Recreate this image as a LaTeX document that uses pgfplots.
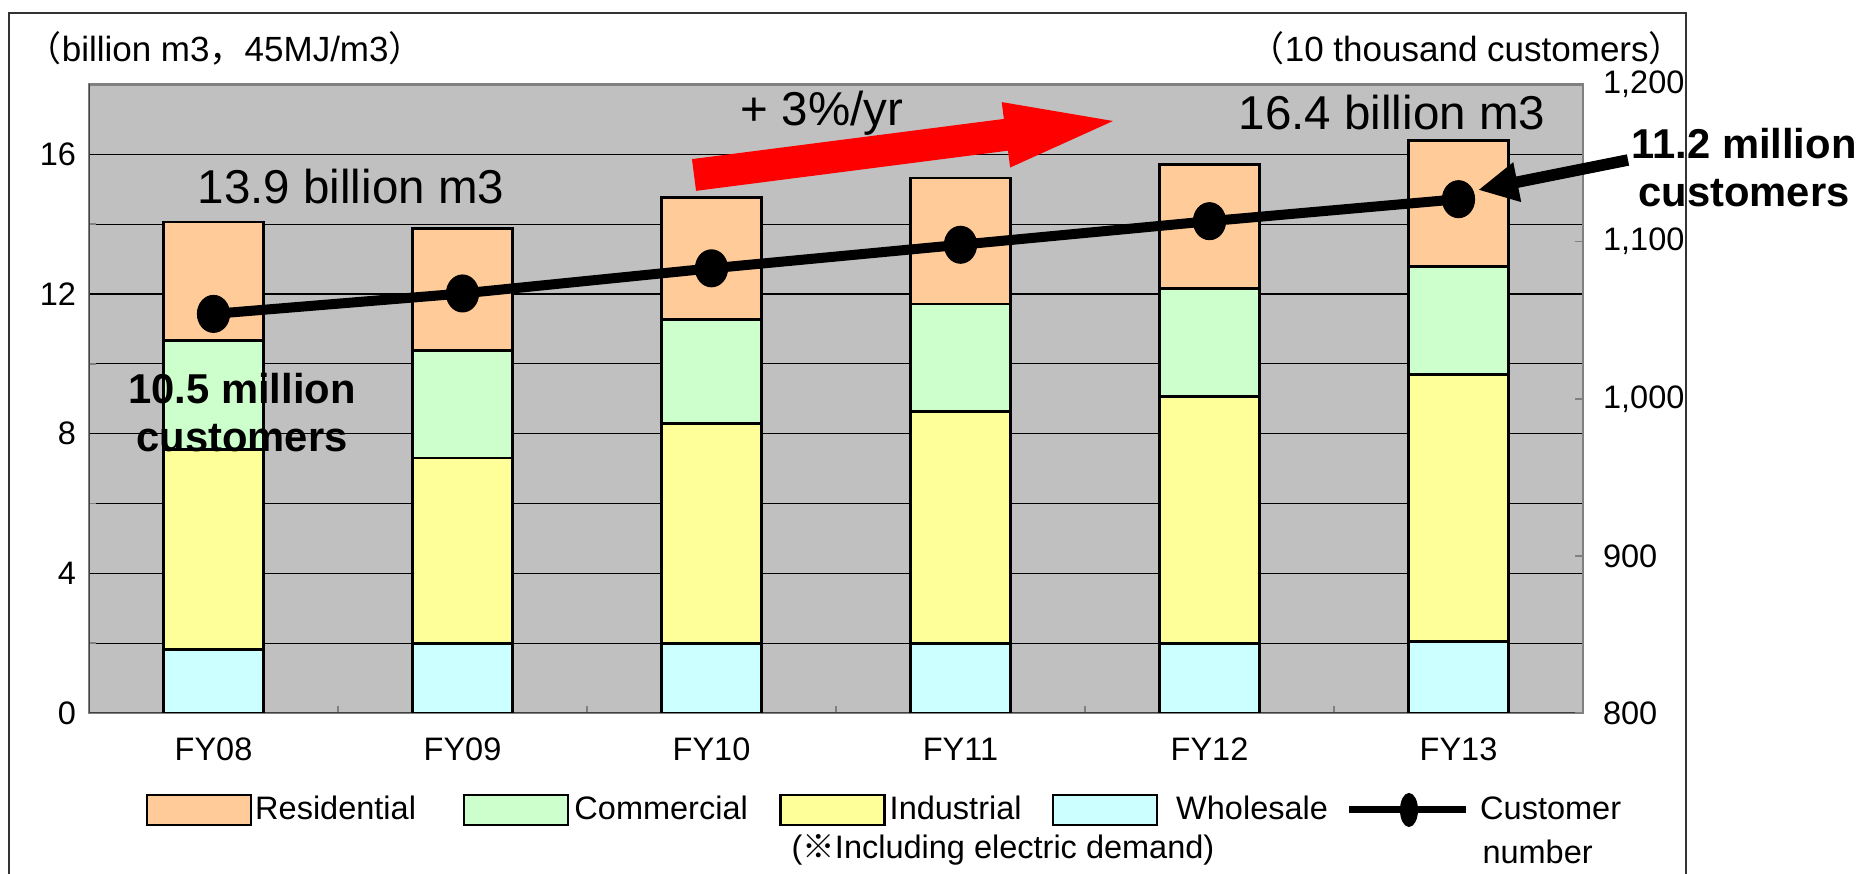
\documentclass[border=0pt]{standalone}
\usepackage{fontspec}
\setmainfont{Liberation Sans}
\newfontfamily\cjk{Noto Sans CJK JP}
\usepackage{pgfplots}
\pgfplotsset{compat=1.18}
\usetikzlibrary{arrows.meta}
\definecolor{resi}{HTML}{FFCC99}
\definecolor{comm}{HTML}{CCFFCC}
\definecolor{indu}{HTML}{FFFF99}
\definecolor{whol}{HTML}{CCFFFF}
\definecolor{plotbg}{HTML}{C0C0C0}
\definecolor{frame}{HTML}{808080}
\pgfplotsset{
  boxlegend/.style={legend image code/.code={\draw[##1, draw=black, line width=0.9pt] (0pt,-6pt) rectangle (41.6pt,6pt);}},
}
\newcommand{\fs}[1]{\fontsize{#1}{#1}\selectfont}

\pgfplotstableread{
x  W     I     C     R
0  1.82  5.72  3.12  3.40
1  1.98  5.32  3.09  3.48
2  1.98  6.31  2.98  3.50
3  1.98  6.66  3.07  3.61
4  1.98  7.09  3.09  3.54
5  2.05  7.65  3.08  3.62
}\gas
\pgfplotstableread{
x  cust
0  1054
1  1067
2  1083
3  1098
4  1113
5  1127
}\cust

\begin{document}
\begin{tikzpicture}
\useasboundingbox (0,0) rectangle (746.4pt,349.6pt);
% outer frame
\draw[black!80, line width=0.8pt] (3.6pt,-5pt) rectangle (674.4pt,344.4pt);

\begin{axis}[
  at={(35.6pt,64.4pt)}, anchor=south west,
  scale only axis, width=597.6pt, height=251.4pt,
  xmin=-0.5, xmax=5.5, ymin=0, ymax=18,
  ybar stacked, bar width=0.4,
  axis background/.style={fill=plotbg},
  axis line style={draw=frame, line width=0.9pt},
  xtick={0,...,5}, xticklabels={FY08,FY09,FY10,FY11,FY12,FY13},
  minor xtick={0.5,1.5,...,4.5},
  ytick={0,4,...,16}, minor ytick={2,6,...,14},
  ymajorgrids, yminorgrids,
  major grid style={black, line width=0.5pt},
  minor grid style={black, line width=0.5pt},
  major tick length=0pt, minor tick length=2.6pt, tick align=inside,
  xtick pos=bottom, ytick pos=left,
  minor tick style={draw=frame, line width=0.7pt},
  /pgf/number format/assume math mode=true,
  ticklabel style={font=\fs{13}},
  xticklabel style={yshift=-6.5pt},
  yticklabel style={xshift=-1.7pt},
  legend style={at={(0.03815,-0.1543)}, anchor=west, draw=none, fill=none,
    inner sep=0pt, outer sep=0pt, font=\fs{13}, nodes={inner sep=0pt},
    /tikz/column sep=0pt},
  legend columns=5, reverse legend,
]
\addlegendimage{legend image code/.code={\draw[black, line width=2.8pt] (0pt,0pt) -- (46.6pt,0pt); \fill[black] (23.8pt,0pt) ellipse [x radius=3.4pt, y radius=6.6pt];}}
\addlegendentry{\hspace{4.3pt}Customer}
\addplot[fill=whol, draw=black, line width=1.1pt, boxlegend] table[x=x, y=W] {\gas};
\addlegendentry{\makebox[75.2pt][l]{\hspace{7.3pt}Wholesale}}
\addplot[fill=indu, draw=black, line width=1.1pt, boxlegend] table[x=x, y=I] {\gas};
\addlegendentry{\makebox[66.4pt][l]{\hspace{1.6pt}Industrial}}
\addplot[fill=comm, draw=black, line width=1.1pt, boxlegend] table[x=x, y=C] {\gas};
\addlegendentry{\makebox[84pt][l]{\hspace{2pt}Commercial}}
\addplot[fill=resi, draw=black, line width=1.1pt, boxlegend] table[x=x, y=R] {\gas};
\addlegendentry{\makebox[84.4pt][l]{\hspace{1.2pt}Residential}}
\draw[black!75, line width=1pt] (rel axis cs:0,1) -- (rel axis cs:0,0) -- (rel axis cs:1,0);
\end{axis}

\begin{axis}[
  at={(35.6pt,64.4pt)}, anchor=south west,
  scale only axis, width=597.6pt, height=251.4pt,
  xmin=-0.5, xmax=5.5, ymin=800, ymax=1200,
  hide x axis, axis y line*=right,
  axis line style={draw=frame, line width=0.9pt},
  ytick={800,900,...,1200},
  tick align=inside, major tick length=3.2pt,
  tick style={draw=frame, line width=0.7pt},
  /pgf/number format/assume math mode=true,
  /pgf/number format/1000 sep={,},
  ticklabel style={font=\fs{13}},
  yticklabel style={xshift=4.5pt},
  clip=false,
]
\addplot[black, line width=4pt, mark=*, mark size=6.4pt,
  mark options={line width=0.5pt, yscale=1.15}] table[x=x, y=cust] {\cust};
\end{axis}

% texts
\node[anchor=west, font=\fs{14}] at (7.2pt,330.4pt) {{\cjk （}billion m3{\cjk ，}45MJ/m3{\cjk ）}};
\node[anchor=east, font=\fs{14}] at (677pt,330.4pt) {{\cjk （}10 thousand customers{\cjk ）}};
\node[font=\fs{19}] at (140.4pt,274.8pt) {13.9 billion m3};
\node[font=\fs{19}] at (556.8pt,304.4pt) {16.4 billion m3};
\node[font=\fs{19}] at (328.8pt,304.4pt) {+ 3\%/yr};
% red arrow
\begin{scope}[shift={(277.6pt,279.6pt)}, rotate=7.34]
\fill[red] (0pt,-6.4pt) -- (125.8pt,-6.4pt) -- (125.8pt,-13.2pt) -- (169pt,0pt) -- (125.8pt,13.2pt) -- (125.8pt,6.4pt) -- (0pt,6.4pt) -- cycle;
\end{scope}
% black arrow
\draw[black, line width=4.6pt, -{Triangle[length=16pt, width=15pt]}] (651.2pt,285.6pt) -- (591.2pt,273.6pt);
\node[font=\fs{16.7}\bfseries, align=center] at (697.6pt,282.4pt) {11.2 million\\[2.5pt]customers};
\node[font=\fs{16.7}\bfseries, align=center] at (96.8pt,184.4pt) {10.5 million\\[2.5pt]customers};
\node[font=\fs{13}] at (401.2pt,9.6pt) {({\cjk ※}Including electric demand)};
\node[font=\fs{13}, anchor=west, inner sep=0pt] at (592.8pt,8.8pt) {number};
\end{tikzpicture}
\end{document}
